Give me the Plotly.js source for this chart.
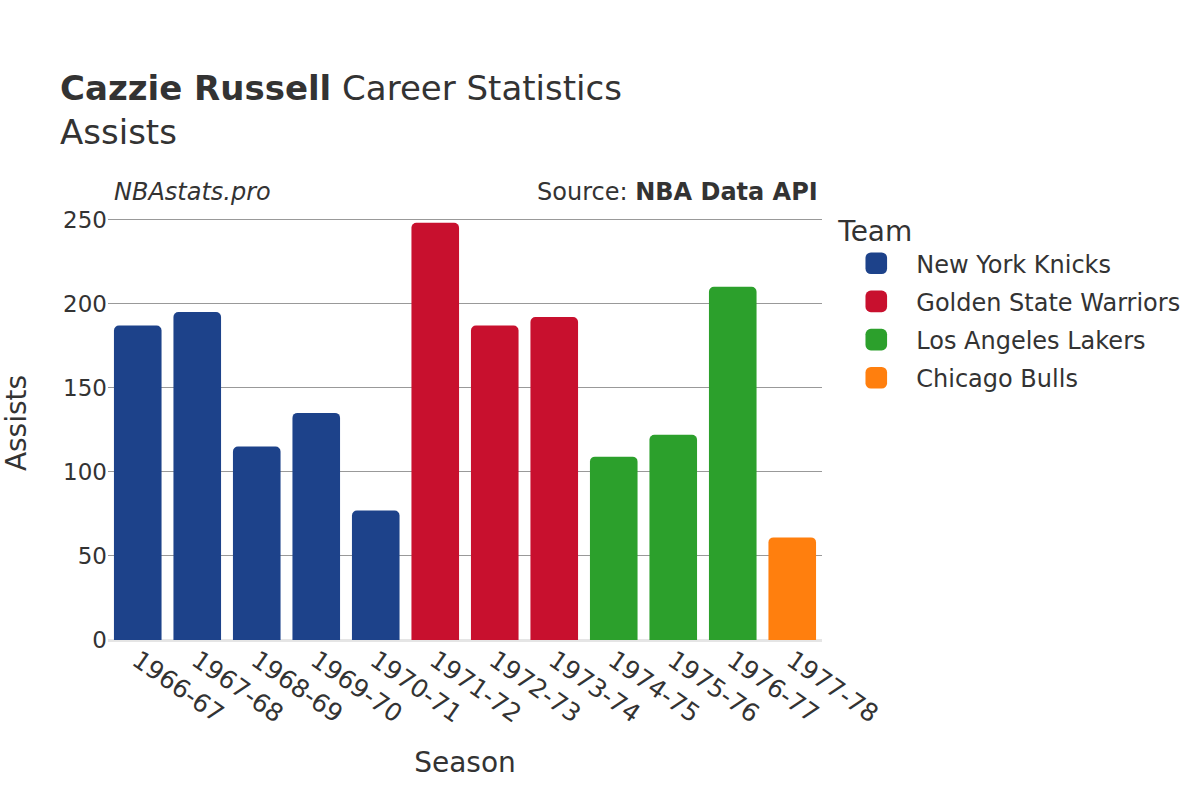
<!DOCTYPE html>
<html>
<head>
<meta charset="utf-8">
<script src="https://cdn.plot.ly/plotly-3.0.1.min.js"></script>
<style>html,body{margin:0;padding:0;background:#fff;}#chart{width:1200px;height:800px;}</style>
</head>
<body>
<div id="chart"></div>
<script>
const seasons = ["1966-67","1967-68","1968-69","1969-70","1970-71","1971-72","1972-73","1973-74","1974-75","1975-76","1976-77","1977-78"];
const teams = ["New York Knicks","Golden State Warriors","Los Angeles Lakers","Chicago Bulls"];
const teamColors = ["#1d428a","#c8102e","#2ca02c","#ff7f0e"];
const seasonTeam = ["New York Knicks","New York Knicks","New York Knicks","New York Knicks","New York Knicks","Golden State Warriors","Golden State Warriors","Golden State Warriors","Los Angeles Lakers","Los Angeles Lakers","Los Angeles Lakers","Chicago Bulls"];
const assists = [187,195,115,135,77,248,187,192,109,122,210,61];

const traces = teams.map((t, i) => {
  const xs = [], ys = [];
  seasons.forEach((s, j) => { if (seasonTeam[j] === t) { xs.push(s); ys.push(assists[j]); } });
  return {type:"bar", name:t, legendgroup:"g"+i, x:xs, y:ys, marker:{color:teamColors[i]}};
});

const font = "DejaVu Sans, sans-serif";
const layout = {
  width:1200, height:800,
  font:{family:font, color:"#333", size:22},
  paper_bgcolor:"#fff", plot_bgcolor:"#fff",
  margin:{l:108, r:378, t:206, b:160},
  barmode:"relative", bargap:0.2, barcornerradius:5,
  title:{text:"<b>Cazzie Russell</b> Career Statistics<br>Assists", x:0.05, xanchor:"left", y:0.875, yanchor:"top", font:{size:34, family:font, color:"#333"}},
  xaxis:{type:"category", categoryorder:"array", categoryarray:seasons, tickangle:35, tickfont:{size:25},
    title:{text:"Season", font:{size:28}, standoff:24}, showgrid:false, ticks:"", showline:false},
  yaxis:{range:[0,258], tickvals:[0,50,100,150,200,250], tickfont:{size:23}, gridcolor:"#999", gridwidth:1,
    zeroline:true, zerolinecolor:"#e5e5e5", zerolinewidth:3, ticks:"", title:{text:"Assists", font:{size:28}, standoff:28}},
  legend:{title:{text:"Team", font:{size:28}}, font:{size:24}, x:1.02, xanchor:"left", y:1.003, yanchor:"top", itemwidth:70, tracegroupgap:4},
  annotations:[
    {text:"<i>NBAstats.pro</i>", xref:"paper", yref:"paper", x:0.005, y:0.995, xanchor:"left", yanchor:"bottom", showarrow:false, font:{size:24, color:"#333"}},
    {text:"Source: <b>NBA Data API</b>", xref:"paper", yref:"paper", x:0.997, y:0.995, xanchor:"right", yanchor:"bottom", showarrow:false, font:{size:24, color:"#333"}}
  ]
};
Plotly.newPlot("chart", traces, layout, {displayModeBar:false}).then(gd => {
  gd.querySelectorAll(".legend .legendpoints path").forEach(p => {
    const t = p.getAttribute("transform") || "";
    p.setAttribute("transform", t + " scale(1.8)");
  });
});
</script>
</body>
</html>
